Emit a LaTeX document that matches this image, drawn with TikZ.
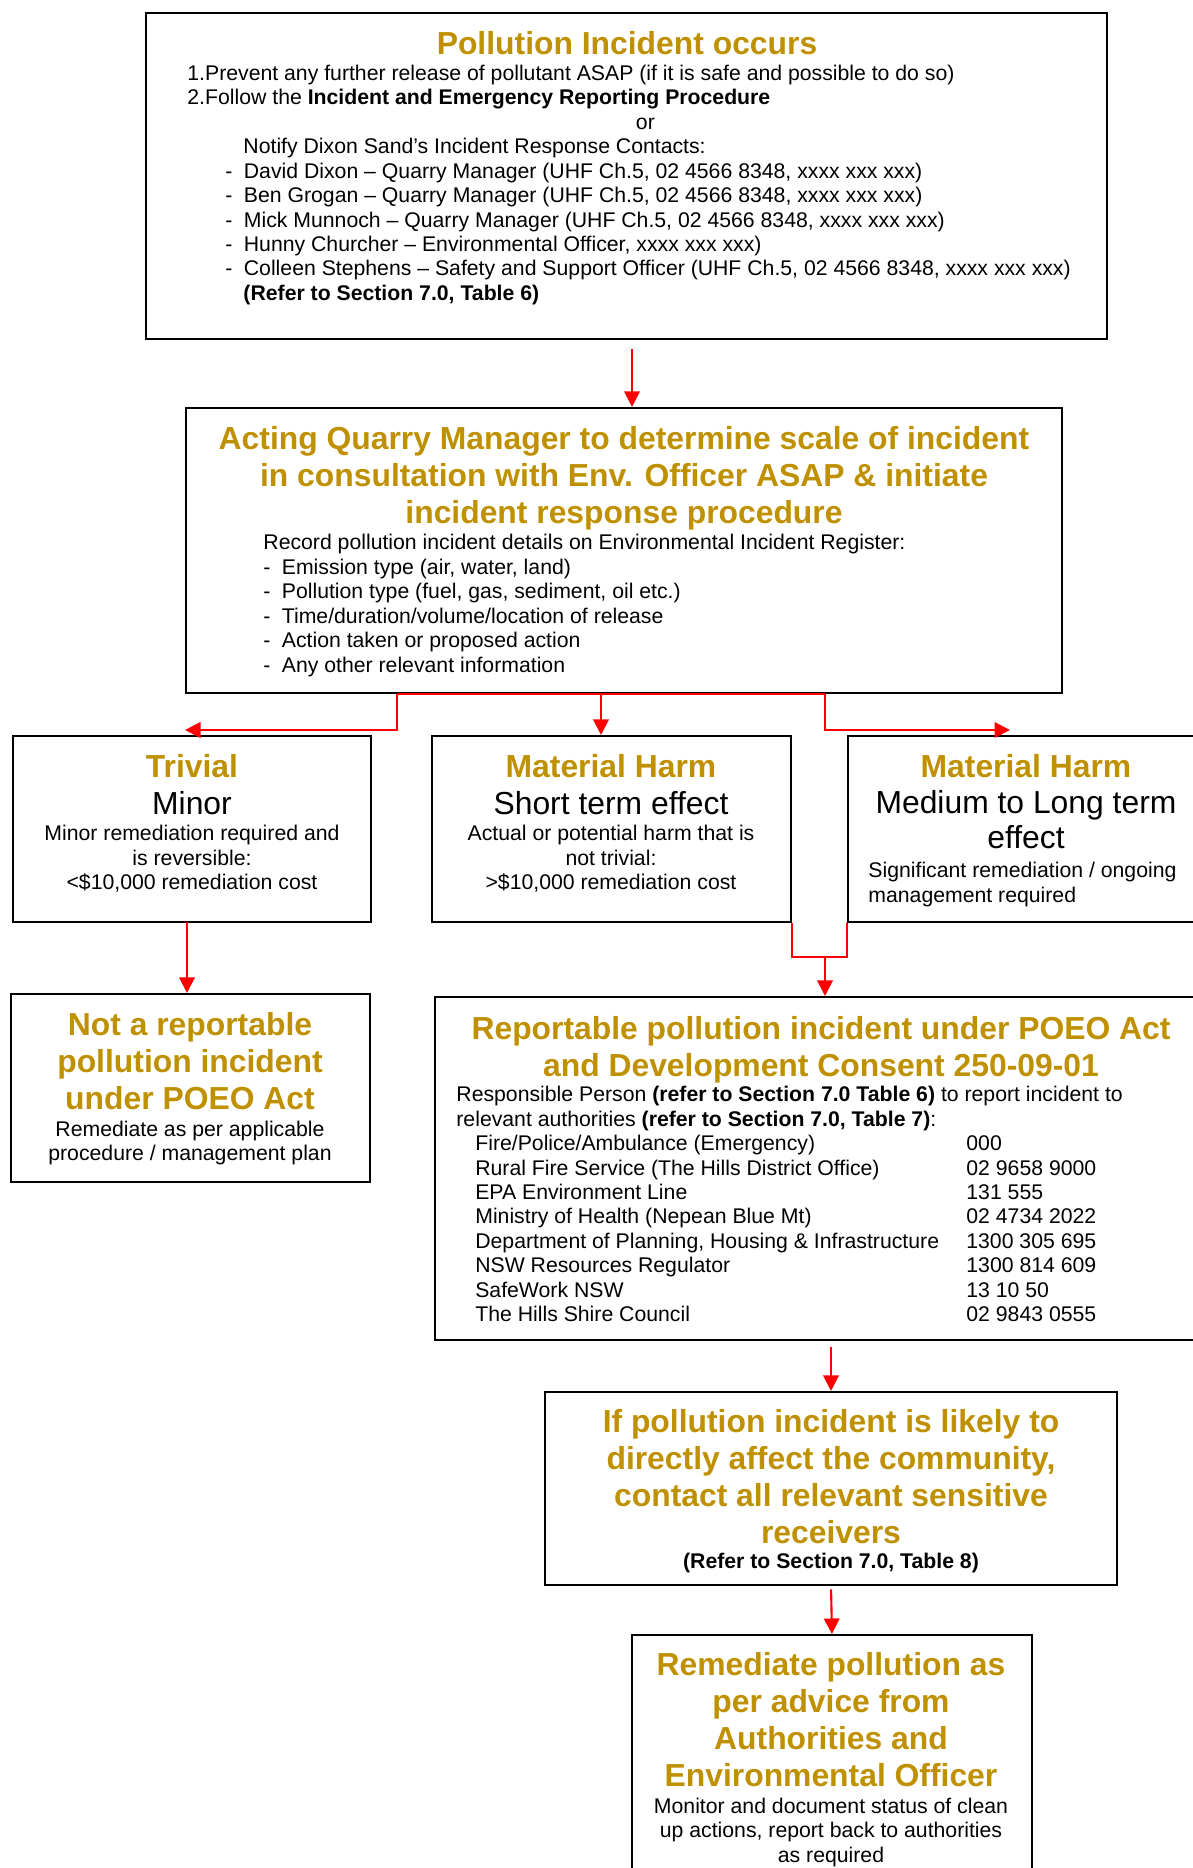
\documentclass[tikz,border=0pt]{standalone}
\usepackage{fontspec}
\setmainfont{Liberation Sans}
\usepackage{tikz}
\usepackage{xcolor}
\usetikzlibrary{arrows.meta,fit}
\definecolor{titlegold}{RGB}{191,144,0}
\newcommand{\dashitem}[2][0pt]{\hspace*{#1}\makebox[8.7pt][l]{-}#2}
\newcommand{\contactline}[2]{\hspace*{8.9pt}\makebox[231.3pt][l]{#1}#2}
\tikzset{
    flow-box/.style = {draw=black, line width=1pt, rectangle, inner sep=0pt},
    flow-title/.style = {text=titlegold, font=\fontsize{15}{17.4}\selectfont\bfseries, align=center, inner sep=0pt},
    flow-subtitle/.style = {font=\fontsize{15}{16.1}\selectfont, align=center, inner sep=0pt},
    flow-text/.style = {font=\fontsize{10}{11.5}\selectfont, align=left, inner sep=0pt},
    flow-line/.style = {draw=red, line width=1pt},
    flow-arrow/.style = {flow-line, -{Triangle[width=7.3pt,length=7.3pt]}},
}

\begin{document}
\begin{tikzpicture}[x=0.471pt, y=-0.471pt]
\useasboundingbox (0,0) rectangle (1192,1868);
% boxes
\node[flow-box, fit={(146,13) (1107,339)}] (incident) {};
\node[flow-box, fit={(186,408) (1062,693)}] (acting) {};
\node[flow-box, fit={(13,736) (371,922)}] (trivial) {};
\node[flow-box, fit={(432,736) (791,922)}] (short-term) {};
\node[flow-box, fit={(848,736) (1200,922)}] (long-term) {};
\node[flow-box, fit={(11,994) (370,1182)}] (not-reportable) {};
\node[flow-box, fit={(435,997) (1200,1340)}] (reportable) {};
\node[flow-box, fit={(545,1392) (1117,1585)}] (community) {};
\node[flow-box, fit={(632,1635) (1032,1890)}] (remediate) {};

% first box (multi-line texts sit on their last baseline)
\node[flow-title, anchor=base] (incident-title) at (627,54) {Pollution Incident occurs};
\node[flow-text, anchor=base west] (incident-text) at (187,300.3) {1.Prevent any further release of pollutant ASAP (if it is safe and possible to do so)\\
2.Follow the \textbf{Incident and Emergency Reporting Procedure}\\
\makebox[431.4pt]{or}\\
\hspace*{26.4pt}Notify Dixon Sand’s Incident Response Contacts:\\
\dashitem[17.9pt]{David Dixon – Quarry Manager (UHF Ch.5, 02 4566 8348, xxxx xxx xxx)}\\
\dashitem[17.9pt]{Ben Grogan – Quarry Manager (UHF Ch.5, 02 4566 8348, xxxx xxx xxx)}\\
\dashitem[17.9pt]{Mick Munnoch – Quarry Manager (UHF Ch.5, 02 4566 8348, xxxx xxx xxx)}\\
\dashitem[17.9pt]{Hunny Churcher – Environmental Officer, xxxx xxx xxx)}\\
\dashitem[17.9pt]{Colleen Stephens – Safety and Support Officer (UHF Ch.5, 02 4566 8348, xxxx xxx xxx)}\\
\hspace*{26.4pt}\textbf{(Refer to Section 7.0, Table 6)}};

% second box
\node[flow-title, anchor=base] (acting-title) at (624,523) {Acting Quarry Manager to determine scale of incident\\in consultation with Env. Officer ASAP \& initiate\\incident response procedure};
\node[flow-text, anchor=base west] (acting-text) at (263,672) {Record pollution incident details on Environmental Incident Register:\\
\dashitem{Emission type (air, water, land)}\\
\dashitem{Pollution type (fuel, gas, sediment, oil etc.)}\\
\dashitem{Time/duration/volume/location of release}\\
\dashitem{Action taken or proposed action}\\
\dashitem{Any other relevant information}};

% scale of incident
\node[flow-title, anchor=base] (trivial-title) at (192,777) {Trivial};
\node[flow-subtitle, anchor=base] (trivial-sub) at (192,814) {Minor};
\node[flow-text, align=center, anchor=base] (trivial-text) at (192,889.5) {Minor remediation required and\\is reversible:\\<\$10,000 remediation cost};

\node[flow-title, anchor=base] (short-term-title) at (611,777) {Material Harm};
\node[flow-subtitle, anchor=base] (short-term-sub) at (611,814) {Short term effect};
\node[flow-text, align=center, anchor=base] (short-term-text) at (611,889.5) {Actual or potential harm that is\\not trivial:\\>\$10,000 remediation cost};

\node[flow-title, anchor=base] (long-term-title) at (1026,777) {Material Harm};
\node[flow-subtitle, anchor=base] (long-term-sub) at (1026,848) {Medium to Long term\\effect};
\node[flow-text, anchor=base west] (long-term-text) at (868,902) {Significant remediation / ongoing\\management required};

% outcomes
\node[flow-title, anchor=base] (not-reportable-title) at (190,1109) {Not a reportable\\pollution incident\\under POEO Act};
\node[flow-text, align=center, anchor=base] (not-reportable-text) at (190,1160.5) {Remediate as per applicable\\procedure / management plan};

\node[flow-title, anchor=base] (reportable-title) at (821,1076) {Reportable pollution incident under POEO Act\\and Development Consent 250-09-01};
\node[flow-text, anchor=base west] (reportable-text) at (456,1321.5) {Responsible Person \textbf{(refer to Section 7.0 Table 6)} to report incident to\\
relevant authorities \textbf{(refer to Section 7.0, Table 7)}:\\
\contactline{Fire/Police/Ambulance (Emergency)}{000}\\
\contactline{Rural Fire Service (The Hills District Office)}{02 9658 9000}\\
\contactline{EPA Environment Line}{131 555}\\
\contactline{Ministry of Health (Nepean Blue Mt)}{02 4734 2022}\\
\contactline{Department of Planning, Housing \& Infrastructure}{1300 305 695}\\
\contactline{NSW Resources Regulator}{1300 814 609}\\
\contactline{SafeWork NSW}{13 10 50}\\
\contactline{The Hills Shire Council}{02 9843 0555}};

\node[flow-title, anchor=base] (community-title) at (831,1543) {If pollution incident is likely to\\directly affect the community,\\contact all relevant sensitive\\receivers};
\node[flow-text, anchor=base] (community-text) at (831,1568.5) {\textbf{(Refer to Section 7.0, Table 8)}};

\node[flow-title, anchor=base] (remediate-title) at (831,1786) {Remediate pollution as\\per advice from\\Authorities and\\Environmental Officer};
\node[flow-text, align=center, anchor=base] (remediate-text) at (831,1862) {Monitor and document status of clean\\up actions, report back to authorities\\as required};

% connectors
\coordinate (incident-out) at (632,349);
\coordinate (split-left) at (397,730);
\coordinate (split-mid) at (601,694);
\coordinate (split-right) at (825,730);
\coordinate (trivial-in) at (185,730);
\coordinate (trivial-out) at (187,922);
\coordinate (long-term-in) at (1010,730);
\coordinate (merge) at (825,957);
\draw[flow-arrow] (incident-out) -- (incident-out |- acting.north);
\draw[flow-line] (acting.south -| split-left) -- (acting.south -| split-right);
\draw[flow-arrow] (acting.south -| split-left) -- (split-left) -- (trivial-in);
\draw[flow-arrow] (split-mid) -- (split-mid |- short-term.north);
\draw[flow-arrow] (acting.south -| split-right) -- (split-right) -- (long-term-in);
\draw[flow-arrow] (trivial-out) -- (trivial-out |- not-reportable.north);
\draw[flow-line] (short-term.south east) |- (merge) -| (long-term.south west);
\draw[flow-arrow] (merge) -- (merge |- reportable.north);
\draw[flow-arrow, shorten <=2.8pt] (reportable.south -| community.north) -- (community.north);
\draw[flow-arrow, shorten <=1.5pt] (community.south) -- (remediate.north);
\end{tikzpicture}
\end{document}
